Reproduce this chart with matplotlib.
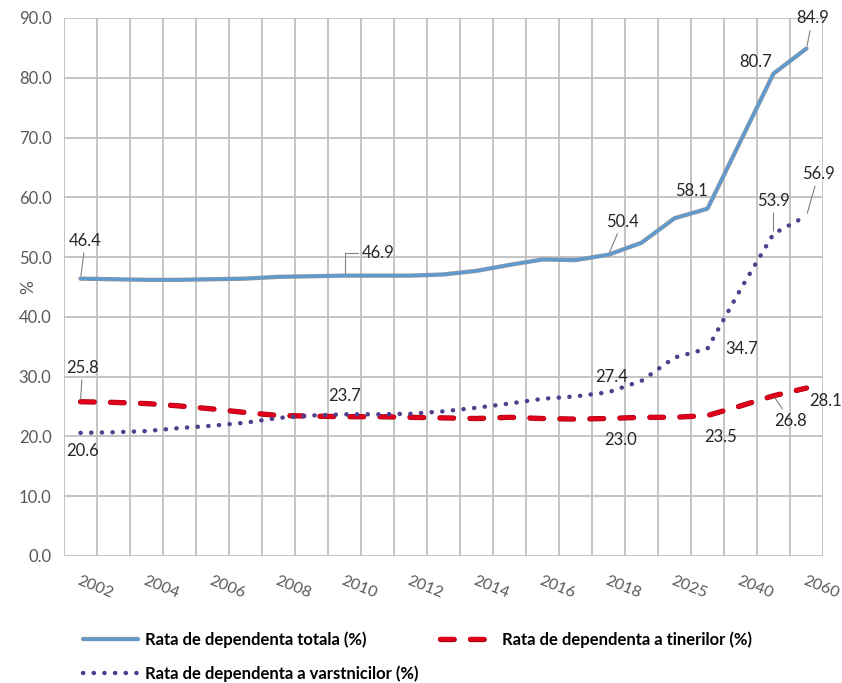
import matplotlib
matplotlib.use("Agg")
import matplotlib.pyplot as plt
import matplotlib.patheffects as pe

plt.rcParams["font.family"] = ["Lato", "DejaVu Sans"]

# categories (2002-2018 yearly, then projections)
years = ["2002", "2003", "2004", "2005", "2006", "2007", "2008", "2009", "2010",
         "2011", "2012", "2013", "2014", "2015", "2016", "2017", "2018",
         "2020", "2025", "2030", "2040", "2050", "2060"]

total = [46.4, 46.3, 46.2, 46.2, 46.3, 46.4, 46.7, 46.8, 46.9, 46.9, 46.9, 47.1,
         47.7, 48.7, 49.6, 49.5, 50.4, 52.4, 56.5, 58.1, 69.4, 80.7, 84.9]
youth = [25.8, 25.7, 25.5, 25.1, 24.6, 24.0, 23.5, 23.4, 23.3, 23.3, 23.2, 23.1,
         23.0, 23.2, 23.0, 22.9, 23.0, 23.2, 23.2, 23.5, 25.1, 26.8, 28.1]
elderly = [20.6, 20.7, 20.9, 21.4, 21.8, 22.3, 23.1, 23.5, 23.7, 23.7, 23.8, 24.2,
           24.8, 25.5, 26.3, 26.7, 27.4, 29.3, 33.2, 34.7, 44.6, 53.9, 56.9]

series_names = ["Rata de dependenta totala (%)",
                "Rata de dependenta a tinerilor (%)",
                "Rata de dependenta a varstnicilor (%)"]

GRID = "#BFBFBF"
TICK = "#595959"
LABEL = "#262626"

fig = plt.figure(figsize=(8.42, 6.83), dpi=100)
ax = fig.add_axes([64 / 842, 1 - 556 / 683, 759 / 842, 538 / 683])

x = list(range(len(years)))

l_total, = ax.plot(x, total, color="#5B9BD5", lw=1.8, solid_capstyle="round",
                   path_effects=[pe.Stroke(linewidth=3.1, foreground="#8A96A3"), pe.Normal()],
                   zorder=3, label=series_names[0])
l_youth, = ax.plot(x, youth, color="#E0001B", lw=3.0, dashes=(3.3, 3.9),
                   dash_capstyle="round",
                   path_effects=[pe.Stroke(linewidth=3.8, foreground="#A00010", capstyle="round"), pe.Normal()],
                   zorder=3, label=series_names[1])
l_eld, = ax.plot(x, elderly, color="#4F3F8C", lw=3.2, dashes=(0.05, 2.35),
                 dash_capstyle="round", zorder=4, label=series_names[2])

ax.set_xlim(-0.5, len(years) - 0.5)
ax.set_ylim(0, 90)
ax.set_yticks(range(0, 91, 10))
ax.set_yticklabels([f"{v:.1f}" for v in range(0, 91, 10)])
ax.set_xticks(x)
ax.set_xticklabels([y if i % 2 == 0 else "" for i, y in enumerate(years)],
                   rotation=-22, ha="left", va="top", rotation_mode="anchor")
ax.set_xticks([i - 0.5 for i in range(len(years) + 1)], minor=True)
ax.tick_params(axis="x", which="both", length=0, pad=13, colors=TICK, labelsize=11.5)
ax.tick_params(axis="y", length=0, pad=9, colors=TICK, labelsize=12)
ax.grid(axis="x", which="minor", color=GRID, lw=1.3)
ax.grid(axis="y", which="major", color=GRID, lw=1.3)
ax.set_axisbelow(True)
for s in ax.spines.values():
    s.set_visible(False)

fig.text(28 / 842, 1 - 287 / 683, "%", rotation=90, ha="center", va="center",
         color=TICK, fontsize=12.5)

# data labels: (values, index, dx px, dy px, leader)
labels = [
    (total, 0, 5, 38, True),
    (total, 8, 34, 23, "elbow"),
    (total, 16, 14, 33, True),
    (total, 19, -16, 18, False),
    (total, 21, -18, 12, False),
    (total, 22, 6, 30, True),
    (elderly, 22, 12, 42, True),
    (elderly, 21, 0, 33, True),
    (elderly, 19, 34, 0, False),
    (elderly, 16, 3, 15, False),
    (elderly, 8, 0, 18, False),
    (elderly, 0, 2, -18, False),
    (youth, 16, 12, -21, False),
    (youth, 19, 13, -21, False),
    (youth, 21, 17, -25, True),
    (youth, 22, 19, -13, False),
    (youth, 0, 2, 34, True),
]
for vals, i, dx, dy, leader in labels:
    kw = {}
    if leader == "elbow":
        kw["arrowprops"] = dict(arrowstyle="-", color="#808080", lw=0.8,
                                shrinkA=1, shrinkB=2,
                                connectionstyle="angle,angleA=0,angleB=90,rad=0")
    elif leader:
        kw["arrowprops"] = dict(arrowstyle="-", color="#808080", lw=0.8,
                                shrinkA=1, shrinkB=2)
    ax.annotate(f"{vals[i]:.1f}", (i, vals[i]), xytext=(dx, dy),
                textcoords="offset pixels", ha="center", va="center",
                fontsize=12, color=LABEL, zorder=5, **kw)

# legend in two pieces so the columns sit where the reference has them
leg_kw = dict(loc="upper left", frameon=False, borderpad=0, borderaxespad=0,
              handlelength=3.3, handletextpad=0.4, labelspacing=1.05,
              prop={"weight": "bold", "size": 12})
leg1 = fig.legend(handles=[l_total, l_eld], bbox_to_anchor=(83 / 842, 1 - 631 / 683), **leg_kw)
leg2 = fig.legend(handles=[l_youth], bbox_to_anchor=(440 / 842, 1 - 631 / 683), **leg_kw)
for lg in (leg1, leg2):
    for t in lg.get_texts():
        t.set_color("#000000")

fig.savefig("out.png", dpi=100)
